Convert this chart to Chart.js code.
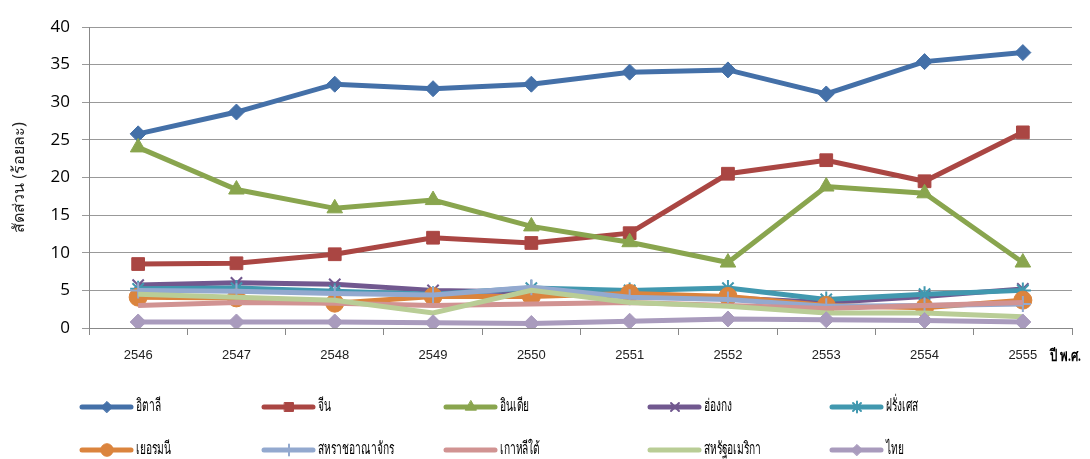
<!DOCTYPE html>
<html>
<head>
<meta charset="utf-8">
<script src="https://cdn.jsdelivr.net/npm/chart.js@4"></script>
<style>
  html, body { margin: 0; padding: 0; background: #fff; }
  #wrap { width: 1090px; height: 459px; position: relative; }
</style>
</head>
<body>
<div id="wrap"><canvas id="chart" width="1090" height="459"></canvas></div>
<script>
// years (Buddhist era)
var years = ['2546', '2547', '2548', '2549', '2550', '2551', '2552', '2553', '2554', '2555'];

// share of each country (percent)
var italy    = [25.8, 28.7, 32.4, 31.8, 32.4, 34.0, 34.3, 31.1, 35.4, 36.6];
var china    = [8.5, 8.6, 9.8, 12.0, 11.3, 12.6, 20.5, 22.3, 19.5, 26.0];
var india    = [24.0, 18.4, 15.9, 17.0, 13.5, 11.4, 8.7, 18.8, 17.9, 8.7];
var hongkong = [5.7, 6.0, 5.8, 5.0, 4.8, 4.2, 4.0, 3.4, 4.2, 5.2];
var france   = [5.2, 5.3, 4.9, 4.5, 5.3, 5.0, 5.3, 3.8, 4.5, 5.0];
var germany  = [4.1, 4.0, 3.3, 4.2, 4.2, 4.6, 4.2, 3.0, 2.7, 3.7];
var uk       = [5.0, 4.9, 4.6, 4.4, 5.4, 4.1, 3.8, 2.9, 3.0, 3.2];
var korea    = [3.0, 3.4, 3.3, 3.0, 3.2, 3.4, 3.0, 2.6, 3.0, 3.4];
var usa      = [4.5, 4.1, 3.7, 2.0, 5.0, 3.4, 2.9, 2.0, 2.0, 1.5];
var thailand = [0.8, 0.8, 0.8, 0.7, 0.6, 0.9, 1.2, 1.1, 1.0, 0.8];

var names = ['อิตาลี', 'จีน', 'อินเดีย', 'ฮ่องกง', 'ฝรั่งเศส', 'เยอรมนี', 'สหราชอาณาจักร', 'เกาหลีใต้', 'สหรัฐอเมริกา', 'ไทย'];
var series = [italy, china, india, hongkong, france, germany, uk, korea, usa, thailand];
var colors = ['#4470A8', '#AA4643', '#89A54E', '#71588F', '#4198AF', '#DB843D', '#93A9CF', '#D19392', '#B9CD96', '#A99BBD'];
var styles = ['rectRot', 'rect', 'triangle', 'crossRot', 'star', 'circle', 'cross', false, false, 'rectRot'];
var radii  = [8, 9, 9, 8, 8, 9, 8, 0, 0, 8];

// legend layout
var legendX = [80, 262, 444, 648, 830];
var legendY = [407, 450];

var datasets = [];
for (var i = 0; i < series.length; i++) {
    var cross = styles[i] == 'crossRot' || styles[i] == 'star' || styles[i] == 'cross';
    datasets.push({
        label: names[i],
        data: series[i],
        borderColor: colors[i],
        backgroundColor: colors[i],
        pointBackgroundColor: colors[i],
        pointBorderColor: colors[i],
        borderWidth: 5,
        pointStyle: styles[i],
        pointRadius: radii[i],
        pointBorderWidth: cross ? 2 : 1,
        tension: 0,
        order: 10 - i
    });
}

// Thai text in the picture is a narrow face, so squeeze it a bit
function narrowText(ctx, text, x, y, sx) {
    ctx.save();
    ctx.translate(x, y);
    ctx.scale(sx, 1);
    ctx.fillText(text, 0, 0);
    ctx.restore();
}

// draws the legend and the axis unit
var extras = {
    id: 'extras',
    afterDraw(chart) {
        var ctx = chart.ctx;
        ctx.save();
        ctx.fillStyle = '#000';
        ctx.textBaseline = 'middle';
        ctx.textAlign = 'left';
        ctx.font = 'bold 16px "Liberation Serif", serif';
        narrowText(ctx, 'ปี พ.ศ.', 1050, 357, 0.72);

        chart.data.datasets.forEach(function(ds, i) {
            var x = legendX[i % 5];
            var y = legendY[Math.floor(i / 5)];
            ctx.beginPath();
            ctx.strokeStyle = ds.borderColor;
            ctx.lineWidth = 5;
            ctx.lineCap = 'round';
            ctx.moveTo(x + 2, y);
            ctx.lineTo(x + 51, y);
            ctx.stroke();
            if (ds.pointStyle && ds.pointRadius > 0) {
                ctx.fillStyle = ds.borderColor;
                ctx.strokeStyle = ds.borderColor;
                ctx.lineWidth = ds.pointBorderWidth;
                Chart.helpers.drawPoint(ctx, {
                    pointStyle: ds.pointStyle,
                    radius: ds.pointRadius * 0.7,
                    borderWidth: ds.pointBorderWidth,
                    rotation: 0
                }, x + 27, y);
            }
            ctx.fillStyle = '#000';
            ctx.font = '17px "Liberation Serif", serif';
            narrowText(ctx, ds.label, x + 56, y, 0.6);
        });
        ctx.restore();
    }
};

var ctx = document.getElementById('chart');
var chart = new Chart(ctx, {
    type: 'line',
    data: {
        labels: years,
        datasets: datasets
    },
    options: {
        responsive: false,
        animation: false,
        layout: { padding: { left: 0, right: 18, top: 27, bottom: 91 } },
        plugins: {
            legend: { display: false },
            tooltip: { enabled: false }
        },
        scales: {
            x: {
                offset: true,
                grid: { drawOnChartArea: false, drawTicks: true, tickLength: 7, offset: true, color: '#888' },
                border: { color: '#888' },
                ticks: { color: '#222', font: { size: 13, family: '"Liberation Sans", Arial, sans-serif' }, padding: 13 },
                afterFit: function(s) { s.height = 40; }
            },
            y: {
                min: 0,
                max: 40,
                ticks: { stepSize: 5, color: '#000', font: { size: 17, family: '"Open Sans", "Liberation Sans", sans-serif' }, padding: 12 },
                grid: { color: '#999', tickLength: 7 },
                border: { color: '#888' },
                title: {
                    display: true,
                    text: 'สัดส่วน (ร้อยละ)',
                    color: '#222',
                    font: { size: 16, family: '"Noto Sans", "DejaVu Sans", sans-serif' },
                    padding: { top: 10, bottom: 0 }
                },
                afterFit: function(s) { s.width = 89; }
            }
        }
    },
    plugins: [extras]
});
</script>
</body>
</html>
